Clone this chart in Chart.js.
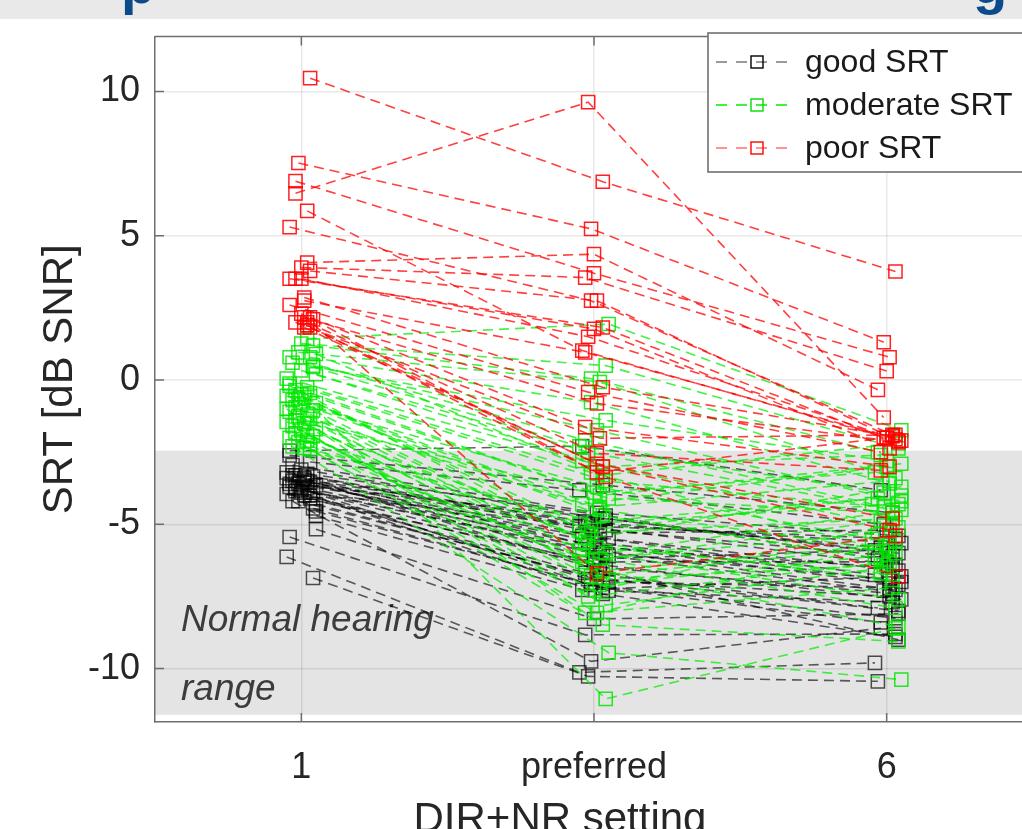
<!DOCTYPE html>
<html>
<head>
<meta charset="utf-8">
<script src="https://cdn.jsdelivr.net/npm/chart.js@4.4.1/dist/chart.umd.min.js"></script>
<style>
  html, body { margin: 0; padding: 0; background: #fff; overflow: hidden; width: 1022px; height: 829px; }
  #banner { position: absolute; left: 0; top: 0; width: 1022px; height: 19px; background: #e9e9e9; overflow: hidden; z-index: 2; }
  #banner span { position: absolute; top: -44px; font: bold 56px "Liberation Sans", Arial, sans-serif; line-height: 1; color: #0b4b8c; }
  #wrap { position: absolute; left: 0; top: 0; width: 1060px; height: 829px; }
</style>
</head>
<body>
<div id="banner"><span style="left:121px">p</span><span style="left:973px">g</span></div>
<div id="wrap"><canvas id="srtChart" width="1060" height="829"></canvas></div>
<script>
const settingLabels = ['1', 'preferred', '6'];
const yTicks = [-10, -5, 0, 5, 10];
const normalRange = [-2.45, -11.6]; // shaded normal hearing band

// SRT per subject at [1, preferred, 6]
const poorSRT = [
  [10.46, 6.87, 3.76], [6.47, 9.63, -1.3], [7.52, 5.24, 1.31], [6.89, 3.70, 0.79],
  [5.86, 1.02, -2.0], [5.30, 2.75, -1.9], [4.07, 4.36, -0.34], [3.90, 3.55, 0.31],
  [3.78, 2.75, -2.1], [3.51, 1.82, -2.0], [3.51, 1.77, -2.37], [3.51, 1.50, -2.05],
  [2.86, -0.25, -1.95], [2.75, 0.96, -2.1], [2.60, -0.42, -2.5], [2.17, -0.81, -2.15],
  [2.17, -1.63, -3.0], [2.00, -2.02, -1.9], [2.00, -2.54, -3.13], [1.82, -2.9, -4.8],
  [1.82, -3.0, -5.2], [2.10, -3.2, -2.0], [1.90, -3.36, -6.81], [2.30, -6.7, -5.4]
];
const moderateSRT = [
  [1.43, 1.94, -1.74], [1.26, 0.50, -2.37], [1.19, 0.05, -2.5], [0.96, -0.07, -3.4],
  [0.79, -2.09, -4.3], [0.79, -0.77, -3.58], [0.60, -1.40, -2.8], [0.50, -1.74, -4.2],
  [0.33, -2.50, -4.5], [0.20, -3.0, -2.6], [0.05, -2.8, -5.1], [-0.12, -3.5, -4.4],
  [-0.25, -3.2, -6.0], [-0.35, -4.1, -4.6], [-0.45, -3.9, -3.2], [-0.55, -4.5, -5.9],
  [-0.60, -5.0, -4.3], [-0.70, -4.7, -6.2], [-0.80, -5.3, -4.8], [-0.85, -3.7, -5.5],
  [-0.95, -5.6, -6.93], [-1.05, -6.0, -4.5], [-1.10, -4.3, -3.0], [-1.20, -6.2, -5.3],
  [-1.25, -5.9, -7.6], [-1.35, -6.6, -5.7], [-1.45, -5.2, -4.0], [-1.50, -6.9, -6.4],
  [-1.60, -7.3, -5.0], [-1.70, -6.5, -8.54], [-1.75, -7.1, -6.1], [-1.85, -5.5, -3.7],
  [-1.95, -7.8, -6.5], [-2.00, -8.07, -5.6], [-2.10, -6.3, -4.9], [-2.15, -8.48, -9.06],
  [-2.25, -7.5, -6.3], [-2.30, -9.45, -10.38], [-2.35, -4.9, -4.1], [-0.50, -11.05, -8.6],
  [-1.00, -8.07, -7.2], [0.45, -2.3, -3.9], [-1.40, -4.0, -2.9], [-1.90, -6.8, -5.8],
  [0.90, -3.3, -2.2], [-0.20, -5.8, -6.7], [-2.40, -6.1, -7.9], [-0.65, -4.4, -3.5]
];
const goodSRT = [
  [-2.45, -2.29, -3.82], [-2.61, -3.64, -4.6], [-2.84, -3.82, -5.0], [-2.95, -4.6, -5.4],
  [-3.10, -4.8, -6.0], [-3.20, -5.0, -5.65], [-3.25, -4.7, -6.2], [-3.30, -5.1, -6.4],
  [-3.35, -5.3, -5.2], [-3.40, -5.5, -6.6], [-3.45, -4.9, -5.8], [-3.50, -5.6, -7.0],
  [-3.55, -5.2, -6.1], [-3.60, -5.4, -6.75], [-3.65, -5.9, -7.27], [-3.70, -6.0, -6.9],
  [-3.75, -5.7, -7.1], [-3.80, -6.1, -7.3], [-3.85, -5.05, -5.5], [-3.90, -6.4, -7.6],
  [-3.95, -6.3, -6.3], [-4.00, -6.5, -7.4], [-4.10, -6.68, -7.9], [-4.20, -6.86, -8.0],
  [-4.30, -7.0, -7.2], [-4.45, -7.1, -8.25], [-4.55, -7.2, -8.4], [-4.70, -7.27, -6.8],
  [-3.30, -5.8, -6.5], [-3.50, -6.2, -5.9], [-3.60, -4.8, -6.0], [-3.90, -6.9, -7.5],
  [-4.00, -7.41, -8.9], [-5.17, -8.28, -8.1], [-5.44, -8.83, -8.8], [-6.13, -10.13, -9.8],
  [-6.86, -10.27, -10.44], [-3.70, -7.3, -7.7], [-3.40, -6.6, -9.0], [-4.20, -9.75, -8.6]
];

// horizontal scatter of each marker around its setting
const poorJitter = [
  [.03, .03, .03], [-.02, -.02, -.01], [-.01, -.01, -.01], [-.02, 0, .01], [.02, -.04, 0], [-.04, -.01, .02],
  [.02, 0, -.03], [0, -.03, 0], [.03, .01, .04], [-.04, .03, -.01], [-.02, 0, .01], [0, -.02, .03],
  [.01, .03, .02], [.01, -.03, .05], [-.04, -.02, -.02], [.01, .01, .04], [.03, -.03, .01], [-.02, .02, .03],
  [.02, .01, -.02], [.01, .01, .02], [.03, .03, .01], [.04, .01, 0], [.02, .04, .04], [0, .01, .03]
];
const moderateJitter = [
  [.02, .05, .05], [0, .04, .04], [.04, -.01, -.03], [-.01, .02, .03], [-.04, -.03, -.05], [.03, -.01, .01],
  [-.03, .04, 0], [.04, .01, .05], [0, -.02, .02], [.05, .03, -.02], [-.05, -.04, .04], [-.04, .04, -.01],
  [.02, -.01, .03], [-.02, .05, .02], [.03, 0, -.04], [-.05, .02, .01], [.01, -.05, .04], [-.03, .03, -.02],
  [.05, -.02, .03], [0, .01, -.05], [-.02, -.03, .02], [.04, .04, .05], [-.04, -.04, 0], [.02, .02, -.03],
  [-.01, -.05, .04], [.03, .03, .01], [-.05, -.01, .05], [.01, .05, -.01], [-.03, 0, .02], [.05, -.03, .04],
  [0, .02, -.04], [-.02, -.02, .05], [.04, .04, 0], [-.04, .01, .03], [.02, -.04, -.02], [-.01, .03, .04],
  [.03, -.02, .01], [-.03, .05, .05], [.01, 0, -.03], [0, .04, .03], [-.05, -.03, .02], [.04, -.05, -.01],
  [-.02, .02, .05], [.02, -.01, 0], [.05, .03, .04], [-.04, .01, -.02], [.03, -.04, .03], [-.01, .02, .01]
];
const goodJitter = [
  [-.04, -.04, -.02], [-.04, .03, .02], [.03, -.05, -.01], [-.03, .01, .04], [0, .03, .01], [-.05, -.02, .05],
  [.02, .04, -.03], [-.02, -.01, .03], [.04, .02, 0], [-.05, .05, .04], [.01, -.03, -.02], [-.03, 0, .05],
  [.03, .04, .02], [-.01, -.04, -.04], [.05, .01, .03], [-.04, .03, .01], [.02, -.02, .04], [0, .05, -.01],
  [-.02, -.05, .03], [.04, .02, .05], [-.05, 0, 0], [.01, .04, .02], [.03, -.03, -.03], [-.01, .01, .04],
  [.05, .05, .01], [.04, -.01, .03], [.05, .03, -.02], [.05, -.04, .05], [-.03, .02, .02], [.02, 0, -.04],
  [-.04, .04, .04], [0, -.02, .01], [.03, .03, .03], [.05, 0, .04], [-.04, -.03, .03], [-.05, -.05, -.04],
  [.04, -.02, -.03], [-.02, .05, .02], [.01, .02, .04], [-.03, -.01, -.02]
];

const FONT = '"Liberation Sans", Arial, Helvetica, sans-serif';
const groups = [
  { label: 'good SRT', rows: goodSRT, jitter: goodJitter, line: 'rgba(0,0,0,0.62)', mark: 'rgba(0,0,0,0.68)', keyLine: '#7a7a7a', keyMark: '#000', order: 2 },
  { label: 'moderate SRT', rows: moderateSRT, jitter: moderateJitter, line: 'rgba(0,235,0,0.72)', mark: 'rgba(0,230,0,0.85)', keyLine: '#00ee00', keyMark: '#00dd00', order: 1 },
  { label: 'poor SRT', rows: poorSRT, jitter: poorJitter, line: 'rgba(255,0,0,0.75)', mark: 'rgba(255,0,0,0.88)', keyLine: '#ff7070', keyMark: '#ff0000', order: 0 }
];

const datasets = [];
groups.forEach(g => {
  g.rows.forEach((r, i) => {
    datasets.push({
      data: r.map((v, k) => ({ x: k + 1 + g.jitter[i][k], y: v })),
      borderColor: g.line,
      borderWidth: 1.6,
      borderDash: [10, 6],
      pointStyle: 'rect',
      pointRadius: 9.3,
      pointBorderWidth: 1.5,
      pointBorderColor: g.mark,
      pointBackgroundColor: 'rgba(0,0,0,0)',
      tension: 0,
      fill: false,
      order: g.order
    });
  });
});

const decor = {
  id: 'decor',
  beforeDraw(chart) {
    const { ctx, chartArea: a, scales: { y } } = chart;
    const t = y.getPixelForValue(normalRange[0]);
    const b = y.getPixelForValue(normalRange[1]);
    ctx.save();
    ctx.fillStyle = '#e4e4e4';
    ctx.fillRect(a.left, t, a.right - a.left, b - t);
    ctx.restore();
  },
  beforeDatasetsDraw(chart) {
    const { ctx, chartArea: a, scales: { y } } = chart;
    ctx.save();
    ctx.font = 'italic 37px ' + FONT;
    ctx.fillStyle = '#3c3c3c';
    ctx.textBaseline = 'alphabetic';
    ctx.fillText('Normal hearing', a.left + 26, y.getPixelForValue(-8.7));
    ctx.fillText('range', a.left + 26, y.getPixelForValue(-11.1));
    ctx.restore();
  },
  afterDraw(chart) {
    const { ctx, chartArea: a, scales: { x, y } } = chart;
    ctx.save();
    // box top edge and inward ticks
    ctx.strokeStyle = '#6e6e6e';
    ctx.lineWidth = 1.5;
    ctx.beginPath();
    ctx.moveTo(a.left, a.top); ctx.lineTo(a.right, a.top);
    ctx.moveTo(a.right, a.top); ctx.lineTo(a.right, a.bottom);
    [1, 2, 3].forEach(v => {
      const px = x.getPixelForValue(v);
      ctx.moveTo(px, a.bottom); ctx.lineTo(px, a.bottom - 9);
      ctx.moveTo(px, a.top); ctx.lineTo(px, a.top + 9);
    });
    yTicks.forEach(v => {
      const py = y.getPixelForValue(v);
      ctx.moveTo(a.left, py); ctx.lineTo(a.left + 9, py);
    });
    ctx.stroke();

    // axis titles
    ctx.fillStyle = '#262626';
    ctx.font = '42px ' + FONT;
    ctx.textAlign = 'center';
    ctx.textBaseline = 'alphabetic';
    ctx.fillText('DIR+NR setting', 560, 832);
    ctx.save();
    ctx.translate(72, (a.top + a.bottom) / 2);
    ctx.rotate(-Math.PI / 2);
    ctx.fillText('SRT [dB SNR]', 0, 0);
    ctx.restore();

    // legend
    const lx = 708, ly = 33;
    ctx.fillStyle = '#fff';
    ctx.fillRect(lx, ly, 360, 139);
    ctx.strokeStyle = '#707070';
    ctx.lineWidth = 1.6;
    ctx.strokeRect(lx, ly, 360, 139);
    ctx.font = '32px ' + FONT;
    ctx.textAlign = 'left';
    ctx.textBaseline = 'middle';
    groups.forEach((g, i) => {
      const ry = 62 + i * 43;
      ctx.strokeStyle = g.keyLine;
      ctx.lineWidth = 1.4;
      ctx.setLineDash([11, 9]);
      ctx.beginPath();
      ctx.moveTo(716, ry); ctx.lineTo(796, ry);
      ctx.stroke();
      ctx.setLineDash([]);
      ctx.strokeStyle = g.keyMark;
      ctx.strokeRect(751, ry - 6, 12, 12);
      ctx.fillStyle = '#1a1a1a';
      ctx.fillText(g.label, 805, ry + 1);
    });
    ctx.restore();
  }
};

new Chart(document.getElementById('srtChart'), {
  type: 'line',
  data: { datasets },
  options: {
    responsive: false,
    animation: false,
    devicePixelRatio: 1,
    layout: { padding: { top: 35, right: 27, left: 0, bottom: 0 } },
    plugins: { legend: { display: false }, tooltip: { enabled: false } },
    scales: {
      x: {
        type: 'linear',
        min: 0.5,
        max: 3.5,
        afterBuildTicks: s => { s.ticks = [1, 2, 3].map(v => ({ value: v })); },
        afterFit: s => { s.height = 107; },
        grid: { color: 'rgba(0,0,0,0.09)', lineWidth: 1.5, drawTicks: false },
        border: { color: '#6e6e6e', width: 1.5 },
        ticks: {
          padding: 24,
          color: '#262626',
          maxRotation: 0,
          autoSkip: false,
          font: { size: 36, family: FONT },
          callback: v => settingLabels[v - 1]
        }
      },
      y: {
        min: -11.85,
        max: 11.9,
        afterBuildTicks: s => { s.ticks = yTicks.map(v => ({ value: v })); },
        afterFit: s => { s.width = 155; },
        grid: { color: 'rgba(0,0,0,0.09)', lineWidth: 1.5, drawTicks: false },
        border: { color: '#6e6e6e', width: 1.5 },
        ticks: {
          padding: 15,
          color: '#262626',
          font: { size: 36, family: FONT }
        }
      }
    }
  },
  plugins: [decor]
});
</script>
</body>
</html>
